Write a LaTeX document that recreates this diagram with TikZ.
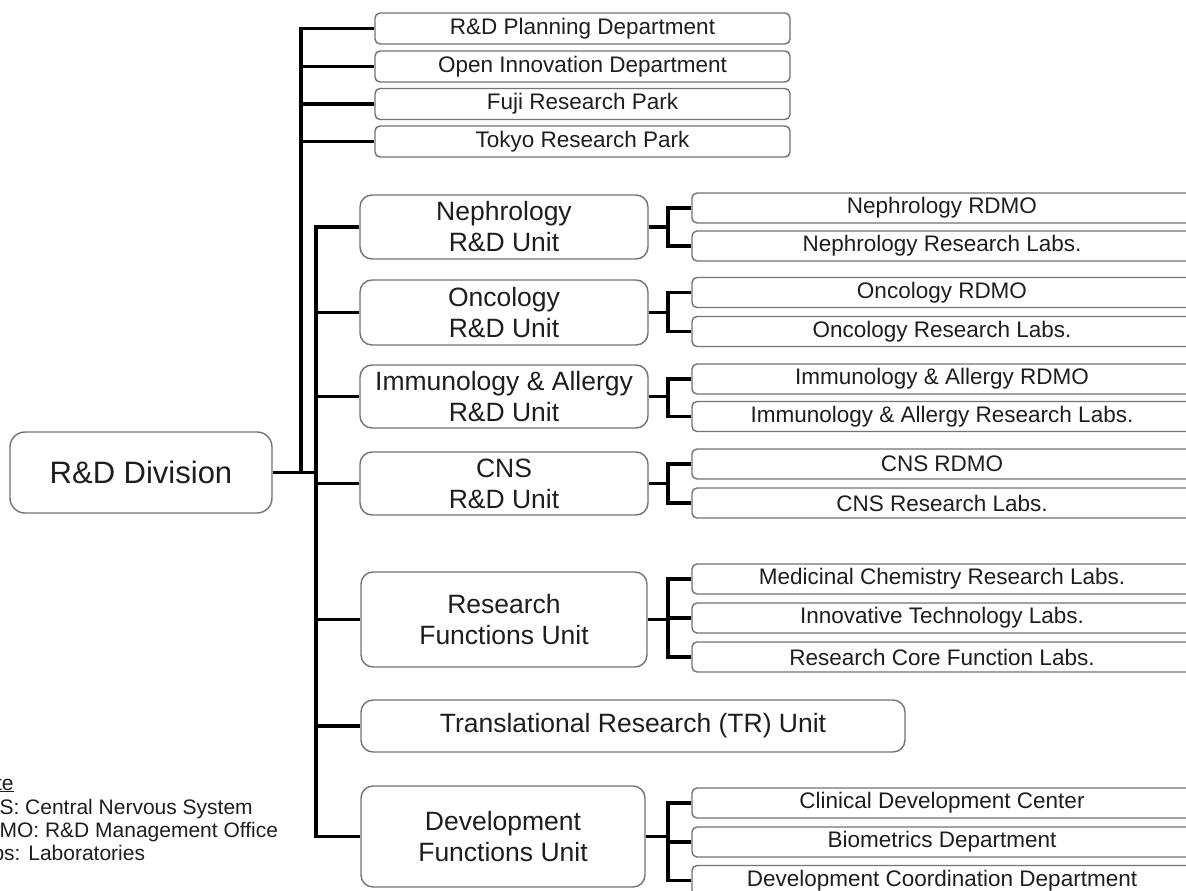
\documentclass[tikz,border=0pt]{standalone}
\usepackage{fontspec}
\setmainfont{Liberation Sans}
\definecolor{boxline}{HTML}{737373}
\definecolor{txt}{HTML}{1E1E1E}
\begin{document}
\begin{tikzpicture}[x=1pt,y=-1pt,
  conn/.style={line width=3.2pt,black},
  basebox/.style={draw=boxline,line width=1.4pt,fill=white,inner sep=0pt,text=txt,align=center},
  sbox/.style={basebox,rounded corners=5pt,minimum height=31pt,font=\fontsize{22.5}{25}\selectfont},
  rbox/.style={basebox,rounded corners=5pt,minimum width=500pt,minimum height=30pt,font=\fontsize{22.5}{25}\selectfont},
  ubox/.style={basebox,rounded corners=12pt,minimum width=288pt,font=\fontsize{26.5}{31}\selectfont},
  notetext/.style={anchor=base west,inner sep=0pt,text=txt,font=\fontsize{21}{23}\selectfont}]
\useasboundingbox (0,0) rectangle (1186,891);
\clip (0,0) rectangle (1186,891);

% root
\node[basebox,rounded corners=15pt,minimum width=262pt,minimum height=81pt,font=\fontsize{31}{35}\selectfont] (div) at (141,472.5) {R\&D Division};

% top boxes
\node[sbox,minimum width=415pt] (p1) at (582.5,28.5) {R\&D Planning Department};
\node[sbox,minimum width=415pt] (p2) at (582.5,66.5) {Open Innovation Department};
\node[sbox,minimum width=415pt] (p3) at (582.5,104) {Fuji Research Park};
\node[sbox,minimum width=415pt] (p4) at (582.5,141.5) {Tokyo Research Park};

% units
\node[ubox,minimum height=64pt] (neph) at (504,227) {Nephrology\\R\&D Unit};
\node[ubox,minimum height=65pt] (onc) at (504,312.5) {Oncology\\R\&D Unit};
\node[ubox,minimum height=63pt] (imm) at (504,396.5) {Immunology \& Allergy\\R\&D Unit};
\node[ubox,minimum height=63pt] (cns) at (504,483.5) {CNS\\R\&D Unit};
\node[ubox,minimum width=286pt,minimum height=95pt] (rf) at (504,619.5) {Research\\Functions Unit};
\node[ubox,minimum width=544pt,minimum height=52pt] (tr) at (633,726) {Translational Research (TR) Unit};
\node[ubox,minimum width=284pt,minimum height=101pt] (dev) at (503,836.5) {Development\\Functions Unit};

% right boxes
\node[rbox] (nephR) at (942,208) {Nephrology RDMO};
\node[rbox] (nephL) at (942,246) {Nephrology Research Labs.};
\node[rbox] (oncR) at (942,292.5) {Oncology RDMO};
\node[rbox] (oncL) at (942,331.5) {Oncology Research Labs.};
\node[rbox] (immR) at (942,379) {Immunology \& Allergy RDMO};
\node[rbox] (immL) at (942,416.5) {Immunology \& Allergy Research Labs.};
\node[rbox] (cnsR) at (942,464) {CNS RDMO};
\node[rbox] (cnsL) at (942,503) {CNS Research Labs.};
\node[rbox] (med) at (942,579) {Medicinal Chemistry Research Labs.};
\node[rbox] (inn) at (942,618) {Innovative Technology Labs.};
\node[rbox] (core) at (942,657) {Research Core Function Labs.};
\node[rbox] (clin) at (942,803) {Clinical Development Center};
\node[rbox] (bio) at (942,842) {Biometrics Department};
\node[rbox] (dco) at (942,880.5) {Development Coordination Department};

% trunks
\coordinate (ja) at (301,472.5);
\coordinate (jb) at (316,472.5);
\coordinate (sx) at (668,0);

\draw[conn] (div.east) -- (jb);
\draw[conn] (ja) |- (p1.west);
\foreach \n in {p2,p3,p4} \draw[conn] (\n.west) -- (\n.west -| ja);

\draw[conn] (neph.west) -- (neph.west -| jb) |- (dev.west);
\foreach \n in {onc,imm,cns,rf,tr} \draw[conn] (\n.west) -- (\n.west -| jb);

% sub connectors
\draw[conn] (neph.east) -- (neph.east -| sx);
\draw[conn] (nephR.west) -- (nephR.west -| sx) |- (nephL.west);
\draw[conn] (onc.east) -- (onc.east -| sx);
\draw[conn] (oncR.west) -- (oncR.west -| sx) |- (oncL.west);
\draw[conn] (imm.east) -- (imm.east -| sx);
\draw[conn] (immR.west) -- (immR.west -| sx) |- (immL.west);
\draw[conn] (cns.east) -- (cns.east -| sx);
\draw[conn] (cnsR.west) -- (cnsR.west -| sx) |- (cnsL.west);
\draw[conn] (rf.east) -- (rf.east -| sx);
\draw[conn] (med.west) -- (med.west -| sx) |- (core.west);
\draw[conn] (inn.west) -- (inn.west -| sx);
\draw[conn] (dev.east) -- (dev.east -| sx);
\draw[conn] (clin.west) -- (clin.west -| sx) |- (dco.west);
\draw[conn] (bio.west) -- (bio.west -| sx);

% note (cut off at the left edge, as in the reference)
\node[notetext] (n1) at (-31,790) {\underline{Note}};
\node[notetext] (n2) at (-31,814) {CNS: Central Nervous System};
\node[notetext] (n3) at (-31,837) {RDMO: R\&D Management Office};
\node[notetext] (n4) at (-31,860) {Labs: Laboratories};
\end{tikzpicture}
\end{document}
